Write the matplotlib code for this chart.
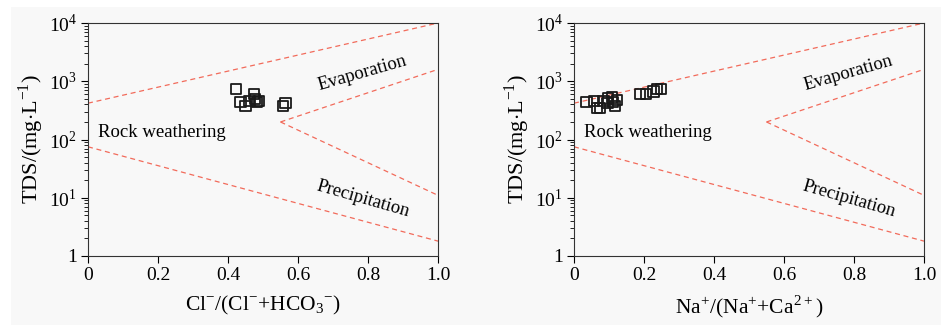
import numpy as np
import matplotlib
matplotlib.use('Agg')
import matplotlib.pyplot as plt
from matplotlib.patches import Rectangle
from matplotlib.ticker import LogLocator, FixedLocator

plt.rcParams['font.family'] = ['Liberation Serif', 'DejaVu Serif']
plt.rcParams['mathtext.fontset'] = 'custom'
plt.rcParams['mathtext.rm'] = 'Liberation Serif'

# Gibbs boundary lines (x, TDS)
upper_x = [0, 1.0]
upper_y = [420, 10000]
lower_x = [0, 1.0]
lower_y = [75, 1.8]
evap_x = [0.55, 1.0]
evap_y = [200, 1600]
prec_x = [0.55, 1.0]
prec_y = [200, 11]

# left panel: Cl/(Cl+HCO3)
cl_ratio = [0.422, 0.436, 0.450, 0.461, 0.475, 0.477, 0.489, 0.482, 0.558, 0.564]
cl_tds = [736, 446, 376, 463, 604, 490, 458, 435, 376, 420]

# right panel: Na/(Na+Ca)
na_ratio = [0.036, 0.057, 0.065, 0.075, 0.084, 0.098, 0.096, 0.108, 0.117, 0.122,
            0.112, 0.189, 0.206, 0.227, 0.238, 0.248]
na_tds = [446, 463, 343, 350, 458, 505, 418, 528, 376, 477,
          446, 604, 604, 663, 728, 745]

xlabels = [r'Cl$^{-}$/(Cl$^{-}$+HCO$_3$$^{-}$)',
           r'Na$^{+}$/(Na$^{+}$+Ca$^{2+}$)']

fig = plt.figure(figsize=(9.41, 3.25), dpi=100, facecolor='white')
bg = Rectangle((11/941, 0), 1, 1 - 7/325, transform=fig.transFigure,
               facecolor='#f8f8f8', edgecolor='none', zorder=-10)
fig.add_artist(bg)

W, H = 941, 325
boxes = [(88, 23, 350, 233), (574, 23, 350, 233)]
datasets = [(cl_ratio, cl_tds), (na_ratio, na_tds)]

for i, (box, (xs, ys)) in enumerate(zip(boxes, datasets)):
    l, t, w, h = box
    ax = fig.add_axes([l / W, 1 - (t + h) / H, w / W, h / H])
    ax.set_facecolor('#f8f8f8')
    ax.set_yscale('log')
    ax.set_xlim(0, 1)
    ax.set_ylim(1, 1e4)

    dash = dict(color='#f26b5b', lw=0.9, ls=(0, (4, 3)))
    ax.plot(upper_x, upper_y, **dash)
    ax.plot(lower_x, lower_y, **dash)
    ax.plot(evap_x, evap_y, **dash)
    ax.plot(prec_x, prec_y, **dash)

    ax.scatter(xs, ys, marker='s', s=55, facecolors='none',
               edgecolors='#1a1a1a', linewidths=1.3, zorder=3)

    ax.text(0.03, 130, 'Rock weathering', fontsize=13.5, va='center', ha='left')
    ax.text(0.783, 1350, 'Evaporation', fontsize=13.5, rotation=16,
            ha='center', va='center')
    ax.text(0.785, 9.5, 'Precipitation', fontsize=13.5, rotation=-16,
            ha='center', va='center')

    ax.xaxis.set_major_locator(FixedLocator([0, 0.2, 0.4, 0.6, 0.8, 1.0]))
    ax.set_xticklabels(['0', '0.2', '0.4', '0.6', '0.8', '1.0'])
    ax.yaxis.set_major_locator(FixedLocator([1, 10, 100, 1000, 10000]))
    ax.set_yticklabels(['1', r'10$^{1}$', r'10$^{2}$', r'10$^{3}$', r'10$^{4}$'])
    ax.yaxis.set_minor_locator(LogLocator(base=10, subs=np.arange(2, 10)))
    ax.tick_params(axis='both', which='major', direction='out', length=5,
                   width=0.8, labelsize=14, pad=3)
    ax.tick_params(axis='y', which='minor', direction='out', length=3, width=0.6)
    ax.tick_params(axis='x', which='minor', bottom=False)
    for s in ax.spines.values():
        s.set_linewidth(0.8)
        s.set_color('#333333')

    ax.set_xlabel(xlabels[i], fontsize=15.5, labelpad=7)
    ax.set_ylabel(r'TDS/(mg$\cdot$L$^{-1}$)', fontsize=16, labelpad=2)

fig.savefig('out.png', dpi=100, facecolor='white')
